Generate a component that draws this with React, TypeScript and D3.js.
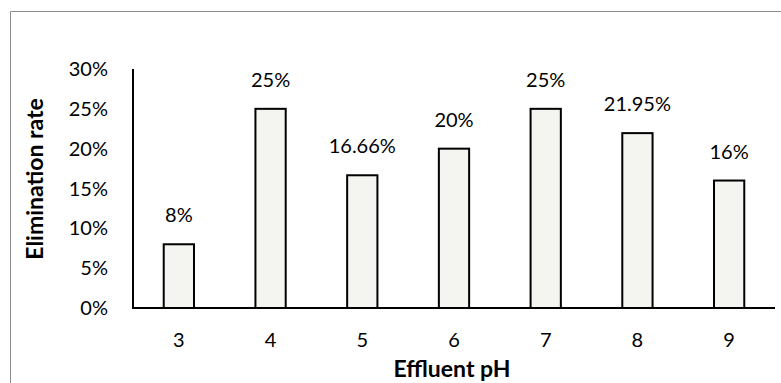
import React from "react";
import * as d3 from "d3";

const categories = ["3", "4", "5", "6", "7", "8", "9"];
const values = [0.08, 0.25, 0.1666, 0.2, 0.25, 0.2195, 0.16];
const valueLabels = ["8%", "25%", "16.66%", "20%", "25%", "21.95%", "16%"];
const yTicks = [0, 0.05, 0.1, 0.15, 0.2, 0.25, 0.3];

export default function App() {
  const W = 781, H = 383;
  const left = 133, right = 775, top = 69, bottom = 308;
  const x = d3.scaleBand<string>().domain(categories).range([left, right]).paddingInner(0.67).paddingOuter(0.335);
  const y = d3.scaleLinear().domain([0, 0.3]).range([bottom, top]);
  const font = "Lato, 'Open Sans', sans-serif";
  return (
    <svg width={W} height={H} style={{ position: "absolute", left: 0, top: 0, display: "block" }}>
      <rect x={0} y={0} width={W} height={H} fill="#fff" />
      <path d={`M10.5,${H} V11.5 H${W}`} fill="none" stroke="#8c8c8c" strokeWidth={1} />
      {values.map((v, i) => {
        const cx = x(categories[i])!;
        return (
          <g key={i}>
            <rect x={cx} y={y(v)} width={x.bandwidth()} height={bottom - y(v)} fill="#F4F5F0" stroke="#000" strokeWidth={2} />
            <text x={cx + x.bandwidth() / 2} y={y(v) - 22} textAnchor="middle" fontFamily={font} fontSize={20} fill="#000">{valueLabels[i]}</text>
            <text x={cx + x.bandwidth() / 2} y={347} textAnchor="middle" fontFamily={font} fontSize={20} fill="#000">{categories[i]}</text>
          </g>
        );
      })}
      <line x1={left} x2={left} y1={top} y2={bottom} stroke="#000" strokeWidth={2} />
      <line x1={left - 1} x2={right} y1={bottom} y2={bottom} stroke="#000" strokeWidth={2} />
      {yTicks.map((t) => (
        <text key={t} x={108} y={y(t) + 7} textAnchor="end" fontFamily={font} fontSize={20} fill="#000">{d3.format(".0%")(t)}</text>
      ))}
      <text x={452} y={377} textAnchor="middle" fontFamily={font} fontSize={23} fontWeight="bold" fill="#000">Effluent pH</text>
      <text transform={`translate(43,179) rotate(-90)`} textAnchor="middle" fontFamily={font} fontSize={23} fontWeight="bold" fill="#000">Elimination rate</text>
    </svg>
  );
}
